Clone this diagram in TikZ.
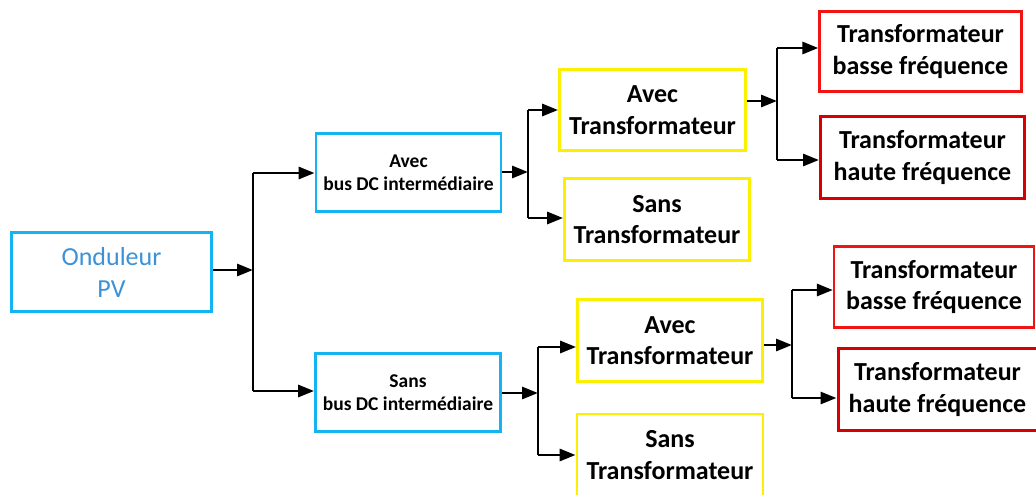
\documentclass[tikz,border=0pt]{standalone}
\usepackage{fontspec}
\setmainfont{Carlito}
\usetikzlibrary{arrows.meta}
\definecolor{cyanline}{RGB}{20,180,240}
\definecolor{bluetext}{RGB}{60,145,215}
\definecolor{yellowline}{RGB}{250,240,0}
\definecolor{redline}{RGB}{240,20,20}
\definecolor{darkredline}{RGB}{215,0,0}
\tikzset{
  box/.style={draw, rectangle, line width=2.8pt, align=center, inner sep=0pt},
  rootbox/.style={box, draw=cyanline, text=bluetext,
    font=\fontsize{26}{32}\selectfont},
  busbox/.style={box, draw=cyanline,
    font=\bfseries\fontsize{19.5}{23}\selectfont},
  transbox/.style={box, draw=yellowline,
    font=\bfseries\fontsize{26}{31.5}\selectfont},
  freqbox/.style={box, draw=redline, line width=2.3pt,
    font=\bfseries\fontsize{26}{31.5}\selectfont},
  freqboxb/.style={freqbox, draw=darkredline, line width=3pt},
  arr/.style={line width=2.9pt, -{Triangle[length=16pt,width=12pt]}},
  bus/.style={line width=2.9pt},
}
\begin{document}
\begin{tikzpicture}[x=1pt,y=-1pt]
\useasboundingbox (0,0) rectangle (1036,495);

% root
\node[rootbox, minimum width=200pt, minimum height=79pt] (ond) at (111.5,272) {Onduleur\\PV};

% DC bus variants
\node[busbox, minimum width=185pt, minimum height=78pt] (avb) at (408.5,172.5) {Avec\\bus DC intermédiaire};
\node[busbox, minimum width=185pt, minimum height=78pt] (sab) at (408,392.5) {Sans\\bus DC intermédiaire};

% transformer / no transformer
\node[transbox, minimum width=186pt, minimum height=81pt] (ya1) at (652.5,110) {Avec\\Transformateur};
\node[transbox, minimum width=185pt, minimum height=82pt] (ys1) at (657,219.5) {Sans\\Transformateur};
\node[transbox, minimum width=185pt, minimum height=82pt] (ya2) at (670,340.5) {Avec\\Transformateur};
\node[transbox, minimum width=186pt, minimum height=82pt] (ys2) at (670,455) {Sans\\Transformateur};

% transformer frequency
\node[freqbox,  minimum width=202pt, minimum height=80pt] (r1) at (920.5,51.5) {Transformateur\\basse fréquence};
\node[freqboxb, minimum width=204pt, minimum height=82pt] (r2) at (922.5,157.5) {Transformateur\\haute fréquence};
\node[freqbox,  minimum width=200pt, minimum height=81pt] (r3) at (934,287) {Transformateur\\basse fréquence};
\node[freqboxb, minimum width=199pt, minimum height=82pt] (r4) at (937.5,389.5) {Transformateur\\haute fréquence};

% branch points
\coordinate (b1) at (253,270);  \coordinate (b1t) at (253,173); \coordinate (b1b) at (253,391);
\coordinate (b2) at (528,172);  \coordinate (b2t) at (528,110); \coordinate (b2b) at (528,218);
\coordinate (b3) at (777,101);  \coordinate (b3t) at (777,48);  \coordinate (b3b) at (777,160);
\coordinate (b4) at (538,393);  \coordinate (b4t) at (538,347); \coordinate (b4b) at (538,455);
\coordinate (b5) at (792,345);  \coordinate (b5t) at (792,290); \coordinate (b5b) at (792,398);

% level 1
\draw[arr] (ond.east |- b1) -- (b1);
\draw[bus] (b1t) -- (b1b);
\draw[arr] (b1t) -- (b1t -| avb.west);
\draw[arr] (b1b) -- (b1b -| sab.west);

% level 2, upper
\draw[arr] (avb.east |- b2) -- (b2);
\draw[bus] (b2t) -- (b2b);
\draw[arr] (b2t) -- (b2t -| ya1.west);
\draw[arr] (b2b) -- (b2b -| ys1.west);

% level 2, lower
\draw[arr] (sab.east |- b4) -- (b4);
\draw[bus] (b4t) -- (b4b);
\draw[arr] (b4t) -- (b4t -| ya2.west);
\draw[arr] (b4b) -- (b4b -| ys2.west);

% level 3, upper
\draw[arr] (ya1.east |- b3) -- (b3);
\draw[bus] (b3t) -- (b3b);
\draw[arr] (b3t) -- (b3t -| r1.west);
\draw[arr] (b3b) -- (b3b -| r2.west);

% level 3, lower
\draw[arr] (ya2.east |- b5) -- (b5);
\draw[bus] (b5t) -- (b5b);
\draw[arr] (b5t) -- (b5t -| r3.west);
\draw[arr] (b5b) -- (b5b -| r4.west);
\end{tikzpicture}
\end{document}
